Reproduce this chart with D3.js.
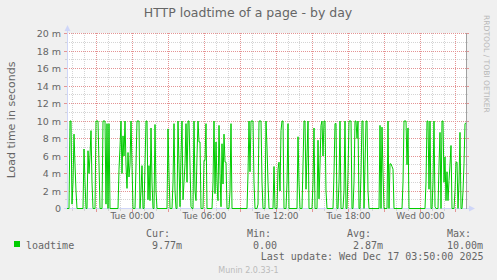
<!DOCTYPE html>
<html>
<head>
<meta charset="utf-8">
<script src="https://cdn.jsdelivr.net/npm/d3@7/dist/d3.min.js"></script>
<style>
  body { margin: 0; background: #f0f0f0; }
  svg { display: block; }
  text { font-family: "DejaVu Sans", sans-serif; fill: #666; }
  .mono { font-family: "DejaVu Sans Mono", monospace; }
</style>
</head>
<body>
<div id="chart"></div>
<script>

// HTTP loadtime in ms, one value per 5 minutes, ending at the last update
var loadtime = [
    0,0,0,10,10,0.5,3,8.5,5,2,
    0,0,0,0,0,0,0,6.8,3,0,
    0,6.6,4.0,6,8.9,3,0,0,0,10,
    10,10,5,0,0,0,10,10,10,0.5,
    9.7,0,9.7,0,0,0,0,0,0,0,
    0,0,4.5,7,10,4,8.3,6,10,5,
    2.3,6.4,3.6,5,10,5,0,0,0,5,
    10,10,10,0,2,4.9,0,0,5,10,
    10,1,4.9,0.9,9.2,3,0,0,9.6,2,
    0,0,0,0,0,0,0,0,0,0,
    0,9.1,4,0,0,0,3,9.7,2,0,
    0,10,5,0.2,6,10,1,3,5.1,9.7,
    3,10,10,5,0.2,0,0,10,2,0.9,
    6,10,7.6,7.6,0,0,0,5.5,5.5,9.7,
    0,0,0,0,0,0,3,10,1.7,7.6,
    3,0.9,9.5,4,0.2,7.4,2.8,8.5,5.3,5.3,
    0,0,0,2,9.7,0,0,0,0,0,
    0,0,0,0,0,0,0,0,0,0,
    0,4,10,4.2,10,10,10,3,0,0,
    0,0.5,10,10,10,3,0,0,0,10,
    7,3,0,0,0,0,0,4.8,0,0,
    0,4.5,5.3,2,8.9,10,10,0,0,0,
    3,9.7,0,0,0,0,0,0,0,0,
    0,8.2,3,0,0,0,5,10,10,2.2,
    6,10,0,0,0,0,3,9.2,0,0,
    0,7.8,1.1,5,9.5,10,6,10,10,2,
    0,0,0,0,0,0,0,4,9.7,9.7,
    0,0,3,10,0,0,0,2,10,0,
    0,4,10,10,10,0,0,3,10,10,
    8,10,0,0,4,10,10,0,5,10,
    10,2,0,0,0,0,0,0,0,0,
    0,0,0,9.5,0,9.3,4,0,0,0,
    0,10,0,5.1,5.1,4.8,4.5,0,0,0,
    0,0,0,0,0,0,3,10,10,10,
    5,9.2,0,0,0,0,0,0,0,0,
    0,0,0,0,0,0,0,0,0,3,
    10,10,2.2,10,0,0,3,10,0.2,0,
    0,0,5,8.7,0,10,10,3,5.9,0.9,
    4.2,0.9,3.2,5,7.2,0,0,0,2,5.3,
    5.3,0,3,8.7,0,0,2,5.1,9.7,9.77
];

var yMajor = [0, 2, 4, 6, 8, 10, 12, 14, 16, 18, 20];
var yMinor = [1, 3, 5, 7, 9, 11, 13, 15, 17, 19];
var lastUpdate = new Date(2025, 11, 17, 3, 50);
var stepMinutes = 5;

var legendName = "loadtime";
var legendHeads = ["Cur:", "Min:", "Avg:", "Max:"];
var legendValues = ["9.77m", "0.00", "2.87m", "10.00m"];

var width = 497, height = 280;
var gridColor = "#d4d4d4", majorColor = "#e49494", axisColor = "#cfd6f8";

var svg = d3.select("#chart").append("svg")
    .attr("width", width)
    .attr("height", height);

svg.append("rect").attr("width", width).attr("height", height).attr("fill", "#f0f0f0");

var start = new Date(lastUpdate.getTime() - loadtime.length * stepMinutes * 60000);
var x = d3.scaleTime().domain([start, lastUpdate]).range([66, 466]);
var y = d3.scaleLinear().domain([0, 20]).range([208.5, 33.5]);
function crisp(v) { return Math.floor(v) + 0.5; }

// plot box (window.top is taken, so prefixed names)
var plotLeft = 67, plotRight = 466, plotTop = 33, plotBottom = 208;

// canvas
svg.append("rect")
    .attr("x", plotLeft).attr("y", plotTop)
    .attr("width", plotRight - plotLeft).attr("height", plotBottom - plotTop)
    .attr("fill", "#ffffff");

var hours = d3.timeHour.range(d3.timeHour.ceil(start), lastUpdate);
var minorHours = hours.filter(function(d){ return d.getHours() % 3 != 0; });
var majorHours = hours.filter(function(d){ return d.getHours() % 3 == 0; });

var grid = svg.append("g").attr("fill", "none").attr("stroke-dasharray", "1,1");

//minor grid
grid.selectAll(".hmin").data(yMinor).enter().append("line")
    .attr("x1", plotLeft).attr("x2", plotRight)
    .attr("y1", function(d){ return crisp(y(d)); })
    .attr("y2", function(d){ return crisp(y(d)); })
    .attr("stroke", gridColor);
grid.selectAll(".vmin").data(minorHours).enter().append("line")
    .attr("x1", function(d){ return crisp(x(d)); })
    .attr("x2", function(d){ return crisp(x(d)); })
    .attr("y1", plotTop).attr("y2", plotBottom)
    .attr("stroke", gridColor);

//major grid
grid.selectAll(".hmaj").data(yMajor.slice(1)).enter().append("line")
    .attr("x1", plotLeft).attr("x2", plotRight)
    .attr("y1", function(d){ return crisp(y(d)); })
    .attr("y2", function(d){ return crisp(y(d)); })
    .attr("stroke", majorColor);
grid.selectAll(".vmaj").data(majorHours).enter().append("line")
    .attr("x1", function(d){ return crisp(x(d)); })
    .attr("x2", function(d){ return crisp(x(d)); })
    .attr("y1", plotTop).attr("y2", plotBottom)
    .attr("stroke", majorColor);

// small tick marks outside the canvas
var ticks = svg.append("g");
yMinor.forEach(function(d){
    ticks.append("line").attr("x1", 65).attr("x2", 67).attr("y1", crisp(y(d))).attr("y2", crisp(y(d))).attr("stroke", gridColor);
    ticks.append("line").attr("x1", plotRight).attr("x2", plotRight + 2).attr("y1", crisp(y(d))).attr("y2", crisp(y(d))).attr("stroke", gridColor);
});
yMajor.forEach(function(d){
    ticks.append("line").attr("x1", 64).attr("x2", 67).attr("y1", crisp(y(d))).attr("y2", crisp(y(d))).attr("stroke", majorColor);
    ticks.append("line").attr("x1", plotRight).attr("x2", plotRight + 3).attr("y1", crisp(y(d))).attr("y2", crisp(y(d))).attr("stroke", majorColor);
});
minorHours.forEach(function(d){
    ticks.append("line").attr("x1", crisp(x(d))).attr("x2", crisp(x(d))).attr("y1", 209).attr("y2", 211).attr("stroke", gridColor);
});
majorHours.forEach(function(d){
    ticks.append("line").attr("x1", crisp(x(d))).attr("x2", crisp(x(d))).attr("y1", 209).attr("y2", 212).attr("stroke", majorColor);
});

// axes with arrows
svg.append("line").attr("x1", 67.5).attr("x2", 67.5).attr("y1", 30).attr("y2", 209)
    .attr("stroke", axisColor);
svg.append("path").attr("d", "M67.5,25 L64.5,31 L70.5,31 Z").attr("fill", axisColor);
svg.append("line").attr("x1", 64).attr("x2", 470).attr("y1", 208.5).attr("y2", 208.5)
    .attr("stroke", axisColor);
svg.append("path").attr("d", "M475,208.5 L469,205.5 L469,211.5 Z").attr("fill", axisColor);

// right border line
svg.append("line").attr("x1", 466.5).attr("x2", 466.5).attr("y1", plotTop).attr("y2", 209)
    .attr("stroke", "#a0a0a0");

// data line
var points = loadtime.map(function(v, i){
    return { t: new Date(start.getTime() + (i + 1) * stepMinutes * 60000), v: v };
});
var line = d3.line()
    .x(function(d){ return x(d.t); })
    .y(function(d){ return y(d.v); });
svg.append("path")
    .datum(points)
    .attr("d", line)
    .attr("fill", "none")
    .attr("stroke", "#00cc00")
    .attr("stroke-width", 1);

// y labels
var yAxis = svg.append("g")
    .attr("transform", "translate(67,0)")
    .call(d3.axisLeft(y).tickValues(yMajor).tickSize(0).tickPadding(6)
        .tickFormat(function(d){ return d == 0 ? "0" : d + " m"; }));
yAxis.select(".domain").remove();
yAxis.selectAll("text").attr("font-size", "9.5px").attr("font-family", "DejaVu Sans").attr("fill", "#666");

// x labels
var xAxis = svg.append("g")
    .attr("transform", "translate(0,208)")
    .call(d3.axisBottom(x).ticks(d3.timeHour.every(6)).tickSize(0).tickPadding(5)
        .tickFormat(d3.timeFormat("%a %H:%M")));
xAxis.select(".domain").remove();
xAxis.selectAll("text").attr("font-size", "9px").attr("font-family", "DejaVu Sans").attr("fill", "#666");

// titles
svg.append("text")
    .attr("x", 248).attr("y", 17)
    .attr("text-anchor", "middle")
    .attr("font-size", "12.5px")
    .text("HTTP loadtime of a page - by day");

svg.append("text")
    .attr("transform", "translate(15,120) rotate(-90)")
    .attr("text-anchor", "middle")
    .attr("font-size", "11px")
    .text("Load time in seconds");

svg.append("text")
    .attr("transform", "translate(484,15) rotate(90)")
    .attr("font-size", "7.6px")
    .style("fill", "#b8b8b8")
    .text("RRDTOOL / TOBI OETIKER");

// legend
svg.append("rect")
    .attr("x", 14).attr("y", 241).attr("width", 6).attr("height", 6)
    .attr("fill", "#00cc00");
svg.append("text").attr("class", "mono")
    .attr("x", 26).attr("y", 249).attr("font-size", "10px")
    .text(legendName);

var colX = [146, 247, 347, 447];
var valX = [152, 253, 353, 447];
legendHeads.forEach(function(h, i){
    svg.append("text").attr("class", "mono")
        .attr("x", colX[i]).attr("y", 237).attr("font-size", "10px")
        .text(h);
    svg.append("text").attr("class", "mono")
        .attr("x", valX[i]).attr("y", 249).attr("font-size", "10px")
        .text(legendValues[i]);
});

svg.append("text").attr("class", "mono")
    .attr("x", 483.5).attr("y", 260).attr("font-size", "10px")
    .attr("text-anchor", "end")
    .text("Last update: " + d3.timeFormat("%a %b %d %H:%M:%S %Y")(lastUpdate));

svg.append("text")
    .attr("x", 248.5).attr("y", 272.5)
    .attr("text-anchor", "middle")
    .attr("font-size", "8px")
    .style("fill", "#bbbbbb")
    .text("Munin 2.0.33-1");

</script>
</body>
</html>
